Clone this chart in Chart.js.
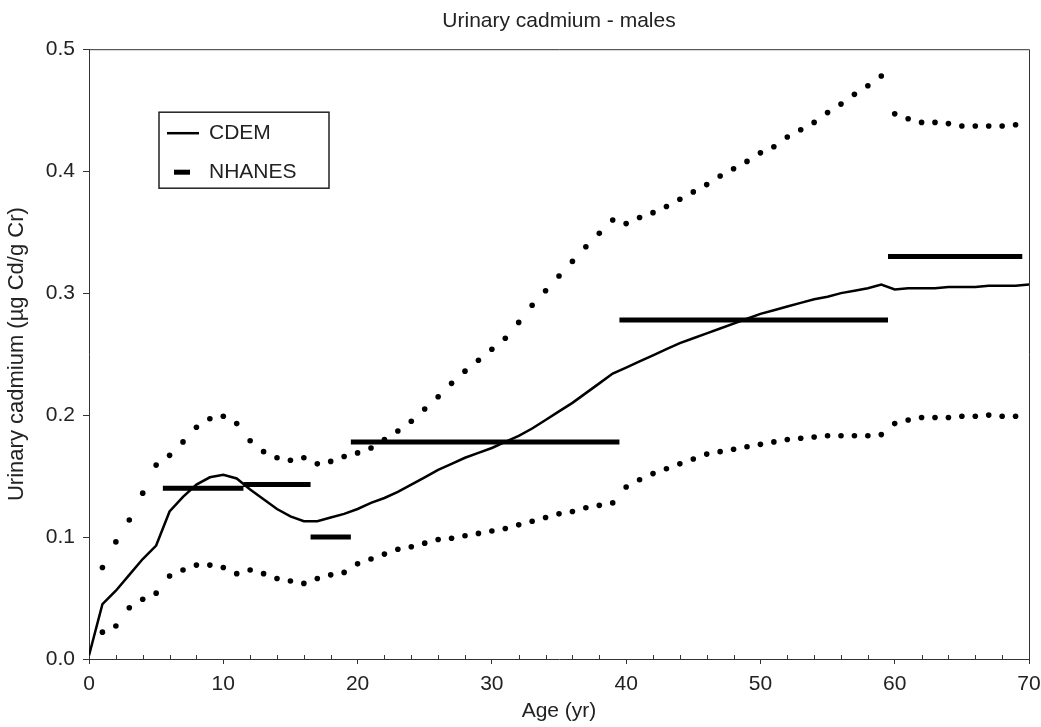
<!DOCTYPE html>
<html>
<head>
<meta charset="utf-8">
<title>Urinary cadmium - males</title>
<script src="https://cdn.jsdelivr.net/npm/chart.js@4"></script>
<style>
  html, body { margin: 0; padding: 0; background: #fff; }
  canvas { display: block; }
</style>
</head>
<body>
<canvas id="chart1" width="1041" height="727"></canvas>
<script>
// Urinary cadmium in males by age: CDEM model vs NHANES

// CDEM model curve, one value per year of age (0..70)
const cdemAges = [
    0, 1, 2, 3, 4, 5, 6, 7, 8, 9,
    10, 11, 12, 13, 14, 15, 16, 17, 18, 19,
    20, 21, 22, 23, 24, 25, 26, 27, 28, 29,
    30, 31, 32, 33, 34, 35, 36, 37, 38, 39,
    40, 41, 42, 43, 44, 45, 46, 47, 48, 49,
    50, 51, 52, 53, 54, 55, 56, 57, 58, 59,
    60, 61, 62, 63, 64, 65, 66, 67, 68, 69, 70
];
const cdemValues = [
    0.003, 0.045, 0.056, 0.069, 0.082, 0.093, 0.121, 0.133, 0.143, 0.149,
    0.151, 0.148, 0.139, 0.131, 0.123, 0.117, 0.113, 0.113, 0.116, 0.119,
    0.123, 0.128, 0.132, 0.137, 0.143, 0.149, 0.155, 0.160, 0.165, 0.169,
    0.173, 0.178, 0.183, 0.189, 0.196, 0.203, 0.210, 0.218, 0.226, 0.234,
    0.239, 0.244, 0.249, 0.254, 0.259, 0.263, 0.267, 0.271, 0.275, 0.279,
    0.283, 0.286, 0.289, 0.292, 0.295, 0.297, 0.300, 0.302, 0.304, 0.307,
    0.303, 0.304, 0.304, 0.304, 0.305, 0.305, 0.305, 0.306, 0.306, 0.306, 0.307
];

// NHANES age-group values (horizontal bars)
const nhanesStart = [5.5, 11.5, 16.5, 19.5, 39.5, 59.5];
const nhanesEnd   = [11.5, 16.5, 19.5, 39.5, 59.5, 69.5];
const nhanesValue = [0.140, 0.143, 0.100, 0.178, 0.278, 0.330];

// dotted bands, one value per year of age (1..69)
const bandAges = [
    1, 2, 3, 4, 5, 6, 7, 8, 9, 10,
    11, 12, 13, 14, 15, 16, 17, 18, 19, 20,
    21, 22, 23, 24, 25, 26, 27, 28, 29, 30,
    31, 32, 33, 34, 35, 36, 37, 38, 39, 40,
    41, 42, 43, 44, 45, 46, 47, 48, 49, 50,
    51, 52, 53, 54, 55, 56, 57, 58, 59, 60,
    61, 62, 63, 64, 65, 66, 67, 68, 69
];
const upperBand = [
    0.075, 0.096, 0.114, 0.136, 0.159, 0.167, 0.178, 0.190, 0.197, 0.199,
    0.193, 0.179, 0.170, 0.165, 0.163, 0.165, 0.160, 0.162, 0.166, 0.169,
    0.173, 0.180, 0.187, 0.195, 0.205, 0.215, 0.226, 0.236, 0.245, 0.254,
    0.263, 0.276, 0.290, 0.302, 0.314, 0.326, 0.338, 0.349, 0.360, 0.357,
    0.362, 0.366, 0.371, 0.377, 0.383, 0.389, 0.396, 0.402, 0.408, 0.415,
    0.420, 0.428, 0.434, 0.440, 0.448, 0.455, 0.463, 0.470, 0.478, 0.447,
    0.443, 0.440, 0.440, 0.439, 0.437, 0.437, 0.437, 0.437, 0.438
];
const lowerBand = [
    0.022, 0.027, 0.042, 0.049, 0.054, 0.068, 0.073, 0.077, 0.077, 0.075,
    0.070, 0.073, 0.070, 0.066, 0.064, 0.062, 0.066, 0.069, 0.071, 0.078,
    0.082, 0.086, 0.090, 0.092, 0.095, 0.098, 0.099, 0.101, 0.103, 0.105,
    0.107, 0.110, 0.113, 0.116, 0.119, 0.121, 0.124, 0.126, 0.128, 0.141,
    0.147, 0.152, 0.156, 0.160, 0.164, 0.168, 0.170, 0.172, 0.174, 0.176,
    0.178, 0.180, 0.181, 0.182, 0.183, 0.183, 0.183, 0.183, 0.184, 0.193,
    0.196, 0.198, 0.198, 0.198, 0.199, 0.199, 0.200, 0.199, 0.199
];

const xTicks = [0, 10, 20, 30, 40, 50, 60, 70];
const yTicks = [0.0, 0.1, 0.2, 0.3, 0.4, 0.5];
const minorXStep = 2;

const FONT = 'Liberation Sans, Arial, Helvetica, sans-serif';
const INK = '#222';

function toPoints(xs, ys) {
    return xs.map((x, i) => ({ x: x, y: ys[i] }));
}

// bars as one line with breaks between groups
function barPoints() {
    const pts = [];
    for (let i = 0; i < nhanesValue.length; i++) {
        pts.push({ x: nhanesStart[i], y: nhanesValue[i] });
        pts.push({ x: nhanesEnd[i], y: nhanesValue[i] });
        pts.push({ x: nhanesEnd[i], y: null });
    }
    return pts;
}

// frame around the plot + minor ticks on the x axis (pointing inward)
const framePlugin = {
    id: 'frame',
    afterDraw(chart) {
        const ctx = chart.ctx;
        const a = chart.chartArea;
        const xs = chart.scales.x;
        ctx.save();
        ctx.strokeStyle = '#333';
        ctx.lineWidth = 1;
        ctx.beginPath();
        ctx.moveTo(a.left, a.top + 0.5);
        ctx.lineTo(a.right + 0.5, a.top + 0.5);
        ctx.lineTo(a.right + 0.5, a.bottom);
        ctx.stroke();
        ctx.beginPath();
        for (let v = xs.min; v <= xs.max; v += minorXStep) {
            if (xTicks.includes(v)) continue;
            const px = Math.round(xs.getPixelForValue(v)) + 0.5;
            ctx.moveTo(px, a.bottom);
            ctx.lineTo(px, a.bottom - 4);
        }
        ctx.stroke();
        ctx.restore();
    }
};

// boxed legend inside the plot, top-left
const boxLegend = {
    id: 'boxLegend',
    afterDraw(chart) {
        const ctx = chart.ctx;
        const a = chart.chartArea;
        const x0 = a.left + 70, y0 = a.top + 63;
        const w = 170, h = 76;
        ctx.save();
        ctx.fillStyle = '#fff';
        ctx.fillRect(x0, y0, w, h);
        ctx.strokeStyle = '#222';
        ctx.lineWidth = 1.5;
        ctx.strokeRect(x0, y0, w, h);

        const ds = chart.data.datasets;
        ctx.font = '21px ' + FONT;
        ctx.fillStyle = INK;
        ctx.textBaseline = 'middle';
        ctx.strokeStyle = '#000';

        // CDEM: solid line
        ctx.lineWidth = 2.5;
        ctx.beginPath();
        ctx.moveTo(x0 + 8, y0 + 21);
        ctx.lineTo(x0 + 40, y0 + 21);
        ctx.stroke();
        ctx.fillText(ds[0].label, x0 + 50, y0 + 21);

        // NHANES: short thick dash
        ctx.lineWidth = 5;
        ctx.beginPath();
        ctx.moveTo(x0 + 15, y0 + 60);
        ctx.lineTo(x0 + 31, y0 + 60);
        ctx.stroke();
        ctx.fillText(ds[1].label, x0 + 50, y0 + 60);
        ctx.restore();
    }
};

new Chart(document.getElementById('chart1'), {
    type: 'line',
    data: {
        datasets: [
            {
                label: 'CDEM',
                data: toPoints(cdemAges, cdemValues),
                borderColor: '#000',
                borderWidth: 2.5,
                pointRadius: 0,
                tension: 0,
                fill: false
            },
            {
                label: 'NHANES',
                data: barPoints(),
                borderColor: '#000',
                borderWidth: 5,
                borderCapStyle: 'butt',
                pointRadius: 0,
                spanGaps: false,
                fill: false
            },
            {
                label: 'NHANES upper',
                data: toPoints(bandAges, upperBand),
                showLine: false,
                pointRadius: 2.8,
                pointBackgroundColor: '#000',
                pointBorderWidth: 0
            },
            {
                label: 'NHANES lower',
                data: toPoints(bandAges, lowerBand),
                showLine: false,
                pointRadius: 2.8,
                pointBackgroundColor: '#000',
                pointBorderWidth: 0
            }
        ]
    },
    options: {
        responsive: false,
        animation: false,
        layout: { padding: { top: 0, right: 12, bottom: 0, left: 0 } },
        plugins: {
            legend: { display: false },
            tooltip: { enabled: false },
            title: {
                display: true,
                fullSize: false,
                text: 'Urinary cadmium - males',
                color: INK,
                font: { family: FONT, size: 21, weight: 'normal' },
                padding: { top: 9, bottom: 15 }
            }
        },
        scales: {
            x: {
                type: 'linear',
                min: 0,
                max: 70,
                afterBuildTicks: s => { s.ticks = xTicks.map(v => ({ value: v })); },
                ticks: { color: INK, font: { family: FONT, size: 21 }, padding: 8, maxRotation: 0 },
                grid: { drawOnChartArea: false, tickLength: 5, color: '#333' },
                border: { color: '#333', width: 1 },
                title: {
                    display: true,
                    text: 'Age (yr)',
                    color: INK,
                    font: { family: FONT, size: 21 },
                    padding: { top: 0, bottom: 3 }
                },
                afterFit: s => {
                    s.height = 68;
                    s.paddingLeft = 0;
                    s.paddingRight = 0;
                }
            },
            y: {
                min: 0,
                max: 0.5,
                afterBuildTicks: s => { s.ticks = yTicks.map(v => ({ value: v })); },
                ticks: { color: INK, font: { family: FONT, size: 21 }, padding: 8, callback: v => v.toFixed(1) },
                grid: { drawOnChartArea: false, tickLength: 6, color: '#333' },
                border: { color: '#333', width: 1 },
                title: {
                    display: true,
                    text: 'Urinary cadmium (\u00b5g Cd/g Cr)',
                    color: INK,
                    font: { family: FONT, size: 22 },
                    padding: { top: 4, bottom: 0 }
                },
                afterFit: s => { s.width = 89; }
            }
        }
    },
    plugins: [framePlugin, boxLegend]
});
</script>
</body>
</html>
